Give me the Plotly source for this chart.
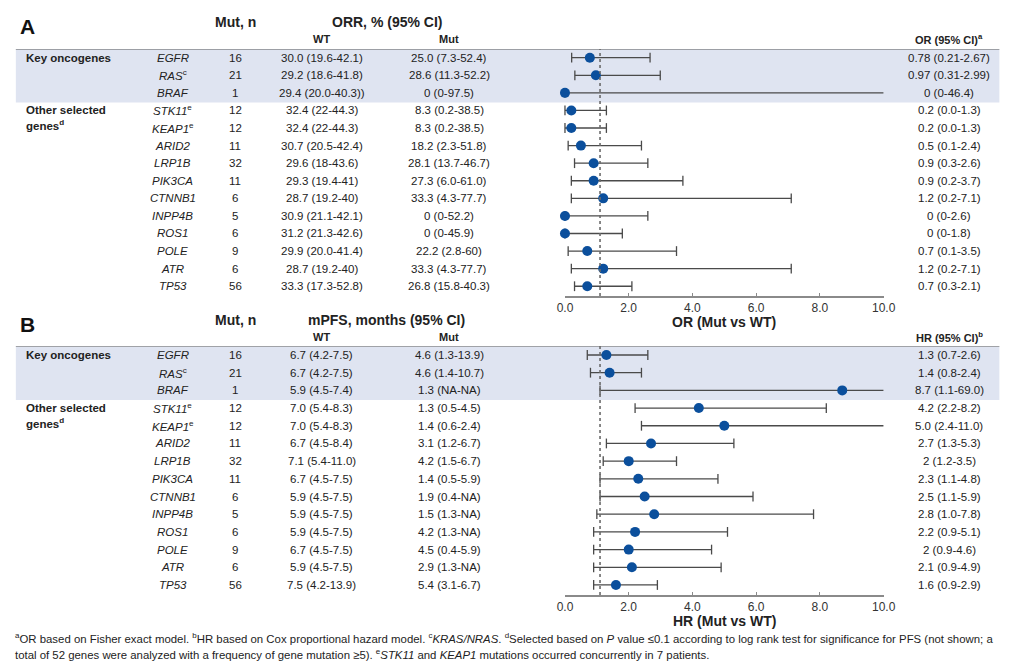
import plotly.graph_objects as go

W, H = 1030, 672

# ---------------- data ----------------
genes = ["EGFR", "RAS", "BRAF", "STK11", "KEAP1", "ARID2", "LRP1B", "PIK3CA",
         "CTNNB1", "INPP4B", "ROS1", "POLE", "ATR", "TP53"]
gene_sup = ["", "c", "", "e", "e", "", "", "", "", "", "", "", "", ""]
mut_n = [16, 21, 1, 12, 12, 11, 32, 11, 6, 5, 6, 9, 6, 56]

orr_wt = ["30.0 (19.6-42.1)", "29.2 (18.6-41.8)", "29.4 (20.0-40.3))", "32.4 (22-44.3)",
          "32.4 (22-44.3)", "30.7 (20.5-42.4)", "29.6 (18-43.6)", "29.3 (19.4-41)",
          "28.7 (19.2-40)", "30.9 (21.1-42.1)", "31.2 (21.3-42.6)", "29.9 (20.0-41.4)",
          "28.7 (19.2-40)", "33.3 (17.3-52.8)"]
orr_mut = ["25.0 (7.3-52.4)", "28.6 (11.3-52.2)", "0 (0-97.5)", "8.3 (0.2-38.5)",
           "8.3 (0.2-38.5)", "18.2 (2.3-51.8)", "28.1 (13.7-46.7)", "27.3 (6.0-61.0)",
           "33.3 (4.3-77.7)", "0 (0-52.2)", "0 (0-45.9)", "22.2 (2.8-60)",
           "33.3 (4.3-77.7)", "26.8 (15.8-40.3)"]
or_est = [0.78, 0.97, 0, 0.2, 0.2, 0.5, 0.9, 0.9, 1.2, 0, 0, 0.7, 1.2, 0.7]
or_lo = [0.21, 0.31, 0, 0.0, 0.0, 0.1, 0.3, 0.2, 0.2, 0, 0, 0.1, 0.2, 0.3]
or_hi = [2.67, 2.99, 46.4, 1.3, 1.3, 2.4, 2.6, 3.7, 7.1, 2.6, 1.8, 3.5, 7.1, 2.1]
or_lbl = ["0.78 (0.21-2.67)", "0.97 (0.31-2.99)", "0 (0-46.4)", "0.2 (0.0-1.3)",
          "0.2 (0.0-1.3)", "0.5 (0.1-2.4)", "0.9 (0.3-2.6)", "0.9 (0.2-3.7)",
          "1.2 (0.2-7.1)", "0 (0-2.6)", "0 (0-1.8)", "0.7 (0.1-3.5)",
          "1.2 (0.2-7.1)", "0.7 (0.3-2.1)"]

pfs_wt = ["6.7 (4.2-7.5)", "6.7 (4.2-7.5)", "5.9 (4.5-7.4)", "7.0 (5.4-8.3)",
          "7.0 (5.4-8.3)", "6.7 (4.5-8.4)", "7.1 (5.4-11.0)", "6.7 (4.5-7.5)",
          "5.9 (4.5-7.5)", "5.9 (4.5-7.5)", "5.9 (4.5-7.5)", "6.7 (4.5-7.5)",
          "5.9 (4.5-7.5)", "7.5 (4.2-13.9)"]
pfs_mut = ["4.6 (1.3-13.9)", "4.6 (1.4-10.7)", "1.3 (NA-NA)", "1.3 (0.5-4.5)",
           "1.4 (0.6-2.4)", "3.1 (1.2-6.7)", "4.2 (1.5-6.7)", "1.4 (0.5-5.9)",
           "1.9 (0.4-NA)", "1.5 (1.3-NA)", "4.2 (1.3-NA)", "4.5 (0.4-5.9)",
           "2.9 (1.3-NA)", "5.4 (3.1-6.7)"]
hr_est = [1.3, 1.4, 8.7, 4.2, 5.0, 2.7, 2, 2.3, 2.5, 2.8, 2.2, 2, 2.1, 1.6]
hr_lo = [0.7, 0.8, 1.1, 2.2, 2.4, 1.3, 1.2, 1.1, 1.1, 1.0, 0.9, 0.9, 0.9, 0.9]
hr_hi = [2.6, 2.4, 69.0, 8.2, 11.0, 5.3, 3.5, 4.8, 5.9, 7.8, 5.1, 4.6, 4.9, 2.9]
hr_lbl = ["1.3 (0.7-2.6)", "1.4 (0.8-2.4)", "8.7 (1.1-69.0)", "4.2 (2.2-8.2)",
          "5.0 (2.4-11.0)", "2.7 (1.3-5.3)", "2 (1.2-3.5)", "2.3 (1.1-4.8)",
          "2.5 (1.1-5.9)", "2.8 (1.0-7.8)", "2.2 (0.9-5.1)", "2 (0.9-4.6)",
          "2.1 (0.9-4.9)", "1.6 (0.9-2.9)"]

x_ticks = [0, 2, 4, 6, 8, 10]
ref_line = 1.1
n_key = 3  # number of key oncogenes rows

# ---------------- styling ----------------
FONT = "Liberation Sans, Arial, Helvetica, sans-serif"
TXT = "#222222"
DOT = "#0b4f9c"
WHISK = "#4a4a4a"
BAND = "#dfe4f1"


def fx(p):
    return p / W


def fy(p):
    return 1 - p / H


fig = go.Figure()
annotations = []
shapes = []

X0, X1 = 568, 893
panels = [
    dict(letter="A", top=0, axis_py=296, band_top=49, row0=57.7, step=17.58,
         title="ORR, % (95% CI)", est_hdr="OR (95% CI)<sup>a</sup>",
         wt=orr_wt, mut=orr_mut, est=or_est, lo=or_lo, hi=or_hi, lbl=or_lbl,
         xtitle="OR (Mut vs WT)", xa="x", ya="y"),
    dict(letter="B", top=298, axis_py=595, band_top=346, row0=355, step=17.69,
         title="mPFS, months (95% CI)", est_hdr="HR (95% CI)<sup>b</sup>",
         wt=pfs_wt, mut=pfs_mut, est=hr_est, lo=hr_lo, hi=hr_hi, lbl=hr_lbl,
         xtitle="HR (Mut vs WT)", xa="x2", ya="y2"),
]

layout_axes = {}
rows = list(range(len(genes)))

for k, p in enumerate(panels):
    r_bottom = (p["axis_py"] - p["row0"]) / p["step"]
    r_top = (p["band_top"] - p["row0"]) / p["step"]
    xname = "xaxis" if k == 0 else "xaxis2"
    yname = "yaxis" if k == 0 else "yaxis2"
    layout_axes[xname] = dict(
        domain=[fx(X0), fx(X1)], range=[0, 10], anchor=p["ya"],
        showgrid=False, zeroline=False, showline=True, linecolor="#8a8a8a",
        linewidth=2, ticks="inside", ticklen=3, tickwidth=1, tickcolor="#8a8a8a",
        tickvals=x_ticks, ticktext=[f"{v:.1f}" for v in x_ticks],
        tickfont=dict(family=FONT, size=12, color="#333333"), fixedrange=True,
    )
    layout_axes[yname] = dict(
        domain=[fy(p["axis_py"]), fy(p["band_top"])], range=[r_bottom, r_top],
        anchor=p["xa"], visible=False, showgrid=False, zeroline=False, fixedrange=True,
    )
    yref = p["ya"]
    ydom = p["ya"] + " domain"

    shapes.append(dict(type="rect", xref="paper", yref=yref, x0=fx(8), x1=fx(1011),
                       y0=-0.5, y1=n_key - 0.45, fillcolor=BAND, line_width=0, layer="below"))
    shapes.append(dict(type="line", xref="paper", yref=yref, x0=fx(8), x1=fx(1011),
                       y0=-0.53, y1=-0.53, line=dict(color="#5a5a5a", width=2)))
    shapes.append(dict(type="line", xref=p["xa"], yref=ydom, x0=ref_line, x1=ref_line,
                       y0=0, y1=1, line=dict(color="#6a6a6a", width=1.6, dash="dot")))

    xmax = 10
    wx, wy = [], []
    for i in rows:
        wx += [p["lo"][i], min(p["hi"][i], xmax), None]
        wy += [i, i, None]
    fig.add_trace(go.Scatter(x=wx, y=wy, mode="lines", xaxis=p["xa"], yaxis=p["ya"],
                             line=dict(color=WHISK, width=1.3), hoverinfo="skip",
                             showlegend=False))
    cx, cy = [], []
    for i in rows:
        cx.append(p["lo"][i]); cy.append(i)
        if p["hi"][i] <= xmax:
            cx.append(p["hi"][i]); cy.append(i)
    fig.add_trace(go.Scatter(x=cx, y=cy, mode="markers", xaxis=p["xa"], yaxis=p["ya"],
                             marker=dict(symbol="line-ns", size=7,
                                         line=dict(color=WHISK, width=1.3)),
                             cliponaxis=False, hoverinfo="skip", showlegend=False))
    fig.add_trace(go.Scatter(x=p["est"], y=rows, mode="markers", xaxis=p["xa"],
                             yaxis=p["ya"], marker=dict(color=DOT, size=10),
                             cliponaxis=False, showlegend=False))

    t = p["top"]
    annotations += [
        dict(x=fx(10), y=fy(t + 27), xref="paper", yref="paper", text=f"<b>{p['letter']}</b>",
             showarrow=False, xanchor="left", yanchor="middle",
             font=dict(family=FONT, size=21, color="#111111")),
        dict(x=fx(232), y=fy(t + 22), xref="paper", yref="paper", text="<b>Mut, n</b>",
             showarrow=False, xanchor="center", yanchor="middle",
             font=dict(family=FONT, size=14, color=TXT)),
        dict(x=fx(386), y=fy(t + 22), xref="paper", yref="paper", text=f"<b>{p['title']}</b>",
             showarrow=False, xanchor="center", yanchor="middle",
             font=dict(family=FONT, size=14, color=TXT)),
        dict(x=fx(320), y=fy(t + 39), xref="paper", yref="paper", text="<b>WT</b>",
             showarrow=False, xanchor="center", yanchor="middle",
             font=dict(family=FONT, size=11, color=TXT)),
        dict(x=fx(450), y=fy(t + 39), xref="paper", yref="paper", text="<b>Mut</b>",
             showarrow=False, xanchor="center", yanchor="middle",
             font=dict(family=FONT, size=11, color=TXT)),
        dict(x=fx(960), y=fy(t + 39), xref="paper", yref="paper", text=f"<b>{p['est_hdr']}</b>",
             showarrow=False, xanchor="center", yanchor="middle",
             font=dict(family=FONT, size=11, color=TXT)),
        dict(x=fx(730.5), y=fy(p["axis_py"] + 26), xref="paper", yref="paper",
             text=f"<b>{p['xtitle']}</b>", showarrow=False, xanchor="center",
             yanchor="middle", font=dict(family=FONT, size=14, color=TXT)),
        dict(x=fx(16), y=0, xref="paper", yref=yref, text="<b>Key oncogenes</b>",
             showarrow=False, xanchor="left", yanchor="middle",
             font=dict(family=FONT, size=11.5, color=TXT)),
        dict(x=fx(16), y=n_key, xref="paper", yref=yref, text="<b>Other selected</b>",
             showarrow=False, xanchor="left", yanchor="middle",
             font=dict(family=FONT, size=11.5, color=TXT)),
        dict(x=fx(16), y=n_key + 0.85, xref="paper", yref=yref, text="<b>genes<sup>d</sup></b>",
             showarrow=False, xanchor="left", yanchor="middle",
             font=dict(family=FONT, size=11.5, color=TXT)),
    ]
    for i in rows:
        sup = f"<sup>{gene_sup[i]}</sup>" if gene_sup[i] else ""
        cols = [(168, f"<i>{genes[i]}</i>{sup}"), (232, str(mut_n[i])),
                (320, p["wt"][i]), (450, p["mut"][i]), (960, p["lbl"][i])]
        for cxp, txt in cols:
            annotations.append(dict(x=fx(cxp), y=i, xref="paper", yref=yref, text=txt,
                                    showarrow=False, xanchor="center", yanchor="middle",
                                    font=dict(family=FONT, size=11.5, color=TXT)))

foot1 = ("<sup>a</sup>OR based on Fisher exact model. <sup>b</sup>HR based on Cox proportional "
         "hazard model. <sup>c</sup><i>KRAS/NRAS</i>. <sup>d</sup>Selected based on <i>P</i> value "
         "≤0.1 according to log rank test for significance for PFS (not shown; a")
foot2 = ("total of 52 genes were analyzed with a frequency of gene mutation ≥5). "
         "<sup>e</sup><i>STK11</i> and <i>KEAP1</i> mutations occurred concurrently in 7 patients.")
for txt, yy in [(foot1, 638), (foot2, 654)]:
    annotations.append(dict(x=fx(5), y=fy(yy), xref="paper", yref="paper", text=txt,
                            showarrow=False, xanchor="left", yanchor="middle",
                            font=dict(family=FONT, size=11.4, color=TXT)))

fig.update_layout(
    width=W, height=H, margin=dict(l=0, r=0, t=0, b=0),
    paper_bgcolor="white", plot_bgcolor="rgba(0,0,0,0)",
    font=dict(family=FONT, color=TXT),
    annotations=annotations, shapes=shapes, showlegend=False,
    **layout_axes,
)

fig.write_html("out.html", config={"displayModeBar": False},
               post_script="document.body.style.margin='0';document.body.style.overflow='hidden';")
